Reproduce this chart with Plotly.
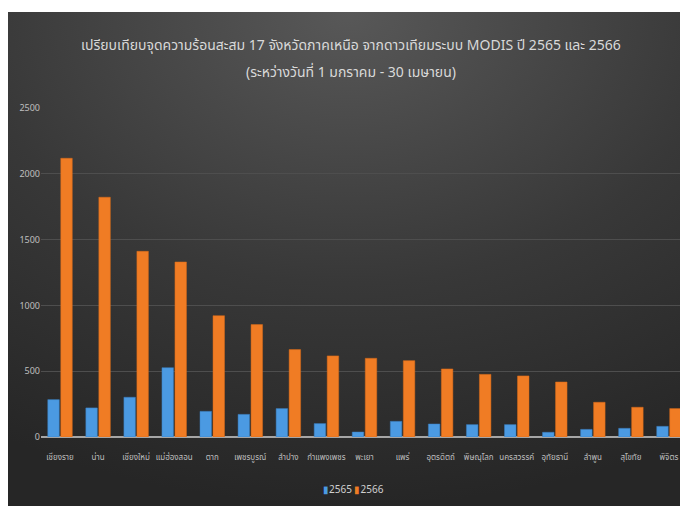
import base64
import plotly.graph_objects as go

provinces = ["เชียงราย", "น่าน", "เชียงใหม่", "แม่ฮ่องสอน", "ตาก", "เพชรบูรณ์", "ลำปาง",
             "กำแพงเพชร", "พะเยา", "แพร่", "อุตรดิตถ์", "พิษณุโลก", "นครสวรรค์",
             "อุทัยธานี", "ลำพูน", "สุโขทัย", "พิจิตร"]
hot_2565 = [284, 221, 302, 527, 195, 172, 216, 102, 38, 119, 99, 94, 94, 36, 58, 66, 81]
hot_2566 = [2118, 1822, 1411, 1330, 922, 854, 664, 616, 598, 580, 517, 476, 464, 418, 264, 226, 216]
y_ticks = [0, 500, 1000, 1500, 2000, 2500]
series_names = ["2565", "2566"]
colors = ["#4b9ae2", "#f07c24"]

# page body has an 8px margin; figure coordinates = screen - 8
W, H = 680, 498
L, R, T, B = 33, 0, 100, 69
pw = W - L - R
ph = H - T - B

svg = '''<svg xmlns="http://www.w3.org/2000/svg" width="680" height="494" viewBox="0 0 680 494" preserveAspectRatio="none">
<defs><radialGradient id="g" cx="0.5" cy="0" r="1.0" fx="0.5" fy="0">
<stop offset="0" stop-color="#585858"/><stop offset="0.55" stop-color="#383838"/><stop offset="1" stop-color="#262626"/>
</radialGradient></defs><rect width="680" height="494" fill="url(#g)"/></svg>'''
src = "data:image/svg+xml;base64," + base64.b64encode(svg.encode()).decode()


def px_x(p):
    return (p - L) / pw


def px_y(p):
    return 1 + (T - p) / ph


fig = go.Figure()
fig.add_trace(go.Bar(name=series_names[0], x=provinces, y=hot_2565,
                     marker=dict(color=colors[0], line=dict(color="#3a7fc0", width=0.5))))
fig.add_trace(go.Bar(name=series_names[1], x=provinces, y=hot_2566,
                     marker=dict(color=colors[1], line=dict(color="#d86a18", width=0.5))))

fig.add_layout_image(dict(source=src, xref="paper", yref="paper",
                          x=px_x(0), y=px_y(4), sizex=680 / pw, sizey=494 / ph,
                          xanchor="left", yanchor="top", sizing="stretch", layer="below"))

font_family = "Tahoma, 'Noto Sans Thai', 'Noto Sans', sans-serif"
fig.add_annotation(text="เปรียบเทียบจุดความร้อนสะสม 17 จังหวัดภาคเหนือ จากดาวเทียมระบบ MODIS ปี 2565 และ 2566",
                   xref="paper", yref="paper", x=px_x(343), y=px_y(37), showarrow=False,
                   xanchor="center", yanchor="middle",
                   font=dict(size=14, color="#d9d9d9", family=font_family))
fig.add_annotation(text="(ระหว่างวันที่ 1 มกราคม - 30 เมษายน)",
                   xref="paper", yref="paper", x=px_x(343), y=px_y(65), showarrow=False,
                   xanchor="center", yanchor="middle",
                   font=dict(size=14, color="#d9d9d9", family=font_family))

legend_text = " ".join(
    f"<span style='color:{c}'>▮</span>{n}" for c, n in zip(colors, series_names))
fig.add_annotation(text=legend_text, xref="paper", yref="paper",
                   x=px_x(345), y=px_y(482), showarrow=False,
                   xanchor="center", yanchor="middle",
                   font=dict(size=10, color="#d0d0d0", family=font_family))

fig.update_layout(
    width=W, height=H,
    margin=dict(l=L, r=R, t=T, b=B),
    paper_bgcolor="white", plot_bgcolor="rgba(0,0,0,0)",
    barmode="group", bargap=0.317, bargroupgap=0.115,
    font=dict(family=font_family, color="#bfbfbf", size=9),
    showlegend=False,
)
fig.update_xaxes(showgrid=False, tickfont=dict(size=8, color="#bfbfbf"), ticks="",
                 showline=False, tickangle=0, ticklabelstandoff=14)
fig.update_yaxes(range=[0, 2500], tickvals=y_ticks, showgrid=True, gridcolor="#4e4e4e",
                 gridwidth=1, zeroline=True, zerolinecolor="#a6a6a6", zerolinewidth=1.5,
                 tickfont=dict(size=9, color="#bfbfbf"), ticks="", showline=False)

fig.write_html("out.html")
